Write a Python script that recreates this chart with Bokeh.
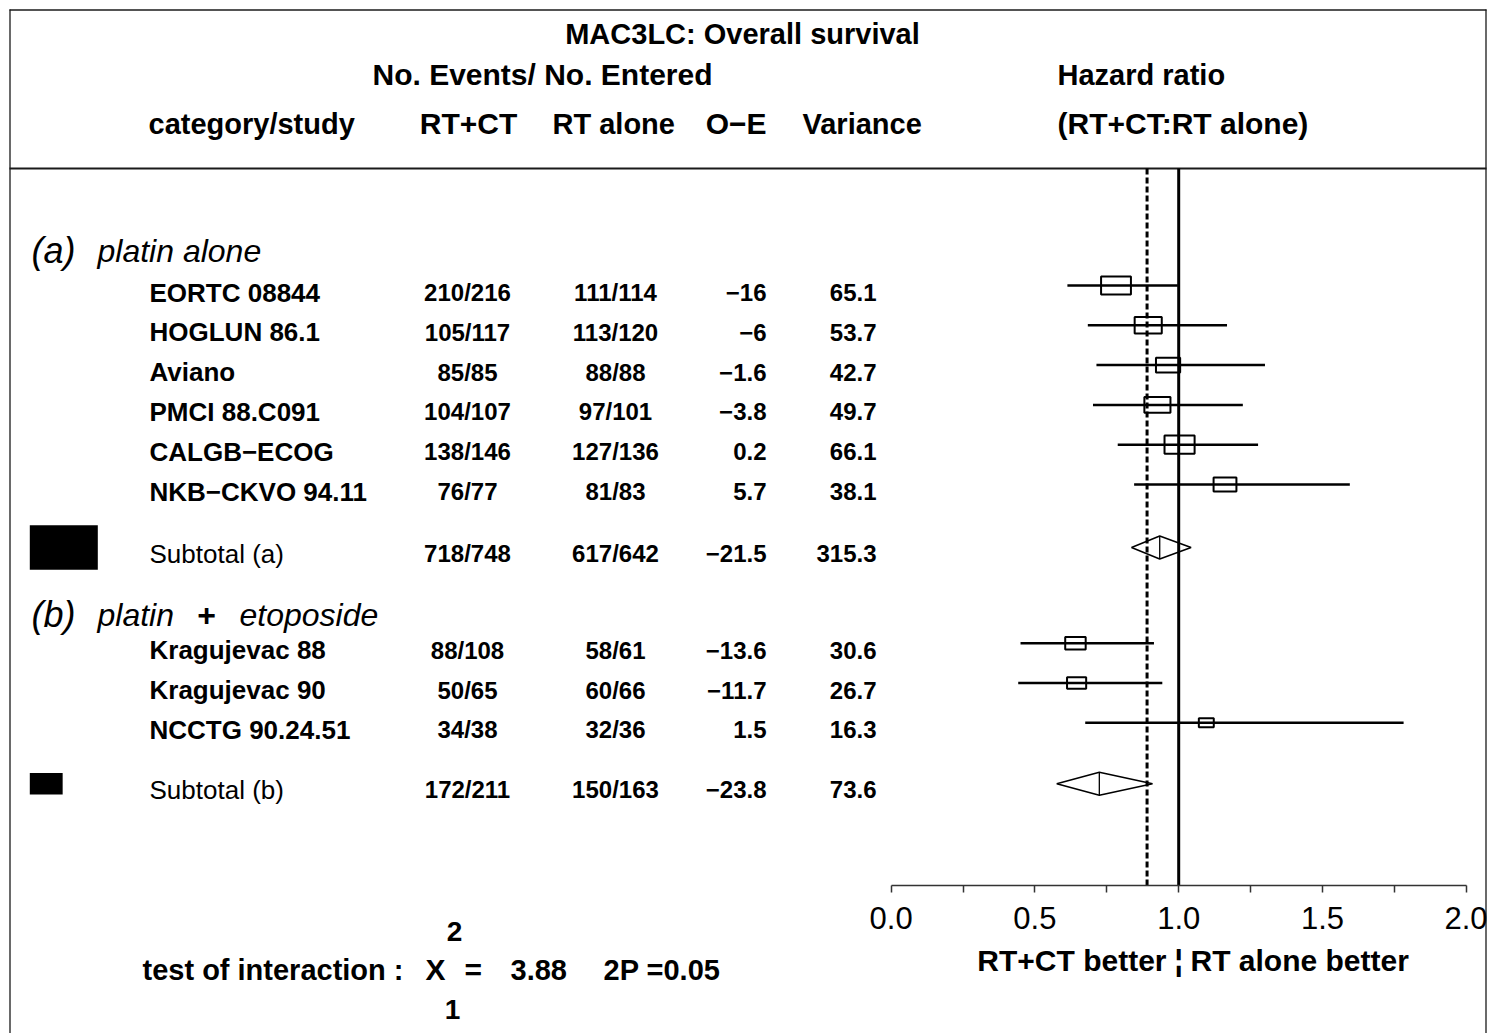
import math
from bokeh.plotting import figure
from bokeh.models import Range1d, LinearAxis, FixedTicker, ColumnDataSource, NumeralTickFormatter
from bokeh.core.properties import value
from bokeh.embed import file_html
from bokeh.resources import INLINE

# ---------------- data ----------------
title = "MAC3LC: Overall survival"
header_events = "No. Events/ No. Entered"
col_headers = ["category/study", "RT+CT", "RT alone", "O\u2212E", "Variance"]
hr_headers = ["Hazard ratio", "(RT+CT:RT alone)"]

group_tags = ["(a)", "(b)"]
group_names = [["platin alone"], ["platin", "+", "etoposide"]]

study = ["EORTC 08844", "HOGLUN 86.1", "Aviano", "PMCI 88.C091", "CALGB\u2212ECOG",
         "NKB\u2212CKVO 94.11", "Kragujevac 88", "Kragujevac 90", "NCCTG 90.24.51"]
study_group = [0, 0, 0, 0, 0, 0, 1, 1, 1]
ct_events = [210, 105, 85, 104, 138, 76, 88, 50, 34]
ct_entered = [216, 117, 85, 107, 146, 77, 108, 65, 38]
rt_events = [111, 113, 88, 97, 127, 81, 58, 60, 32]
rt_entered = [114, 120, 88, 101, 136, 83, 61, 66, 36]
o_minus_e = [-16, -6, -1.6, -3.8, 0.2, 5.7, -13.6, -11.7, 1.5]
variance = [65.1, 53.7, 42.7, 49.7, 66.1, 38.1, 30.6, 26.7, 16.3]
hr = [0.782, 0.894, 0.963, 0.926, 1.003, 1.161, 0.641, 0.645, 1.096]
hr_lo = [0.613, 0.684, 0.714, 0.702, 0.788, 0.845, 0.450, 0.442, 0.675]
hr_hi = [0.997, 1.168, 1.300, 1.223, 1.276, 1.595, 0.914, 0.943, 1.782]

subtotal_label = ["Subtotal (a)", "Subtotal (b)"]
sub_ct_events = [718, 172]
sub_ct_entered = [748, 211]
sub_rt_events = [617, 150]
sub_rt_entered = [642, 163]
sub_o_minus_e = [-21.5, -23.8]
sub_variance = [315.3, 73.6]
sub_hr = [0.934, 0.724]
sub_lo = [0.836, 0.576]
sub_hi = [1.043, 0.909]

overall_hr = 0.89
tick_values = [0.0, 0.5, 1.0, 1.5, 2.0]
minor_tick_values = [0.25, 0.75, 1.25, 1.75]
interaction_text = "test of interaction :"
interaction_chi2 = "3.88"
interaction_df = "1"
interaction_p = "2P =0.05"
better_left = "RT+CT better"
better_right = "RT alone better"

# ---------------- layout ----------------
FONT = "Liberation Sans"
W, H = 1487, 1033
X0, PPU = 890.6, 287.6          # page x of HR=0, pixels per HR unit


def hx(px):
    return (px - X0) / PPU


p = figure(width=W, height=H, output_backend="svg", toolbar_location=None,
           x_range=Range1d(hx(0), hx(W)), y_range=Range1d(H, 0),
           x_axis_type=None, y_axis_type=None, min_border=0,
           outline_line_color=None, background_fill_color="white",
           border_fill_color="white")


def label(x, y, s, size, align="left", style="bold", color="black"):
    p.text(x=[x], y=[y], text=[s], text_font=value(FONT), text_font_size=f"{size}px",
           text_font_style=style, text_align=align, text_baseline="middle",
           text_color=color)


def fmt(v):
    return f"{v:g}".replace("-", "\u2212")


# frame lines
LINE = "#1a1a1a"
p.segment(x0=[hx(9), hx(9.5), hx(1485.5), hx(9)], y0=[9.5, 9, 9, 168],
          x1=[hx(1486), hx(9.5), hx(1485.5), hx(1486)], y1=[9.5, 1033, 1033, 168],
          line_color=LINE, line_width=[1.3, 1.3, 1.3, 2.2])

# headers
label(hx(742), 33, title, 29, "center")
label(hx(542), 74, header_events, 30, "center")
label(hx(148), 123, col_headers[0], 29)
label(hx(468), 123, col_headers[1], 30, "center")
label(hx(552), 123, col_headers[2], 29)
label(hx(766), 123, col_headers[3], 30, "right")
label(hx(802), 123, col_headers[4], 29)
label(hx(1057), 74, hr_headers[0], 29)
label(hx(1057), 123, hr_headers[1], 30)

# row positions
ROW = 39.8
TXT_DY = 7
group_head_y = [250, 614]
group_first_y = [285, 642.7]
sub_y = [547, 783.3]

ys = []
counters = [0, 0]
for g in study_group:
    ys.append(group_first_y[g] + counters[g] * ROW)
    counters[g] += 1

for g in range(2):
    label(hx(31), group_head_y[g], group_tags[g], 36, style="italic")
label(hx(97), group_head_y[0], group_names[0][0], 32, style="italic")
label(hx(97), group_head_y[1], group_names[1][0], 32, style="italic")
label(hx(206), group_head_y[1], group_names[1][1], 32, "center", style="bold")
label(hx(239), group_head_y[1], group_names[1][2], 32, style="italic")

rows = ColumnDataSource(dict(
    y=ys,
    ty=[y + TXT_DY for y in ys],
    name=study,
    ct=[f"{e}/{n}" for e, n in zip(ct_events, ct_entered)],
    rt=[f"{e}/{n}" for e, n in zip(rt_events, rt_entered)],
    oe=[fmt(v) for v in o_minus_e],
    var=[f"{v:.1f}" for v in variance],
    hr=hr, lo=hr_lo, hi=hr_hi,
    bw=[3.7 * math.sqrt(v) / PPU for v in variance],
    bh=[2.25 * math.sqrt(v) for v in variance],
))

subs = ColumnDataSource(dict(
    y=sub_y,
    ty=[y + 6 for y in sub_y],
    name=subtotal_label,
    ct=[f"{e}/{n}" for e, n in zip(sub_ct_events, sub_ct_entered)],
    rt=[f"{e}/{n}" for e, n in zip(sub_rt_events, sub_rt_entered)],
    oe=[fmt(v) for v in sub_o_minus_e],
    var=[f"{v:.1f}" for v in sub_variance],
    hr=sub_hr,
    dx=[[lo, h, hi, h] for lo, h, hi in zip(sub_lo, sub_hr, sub_hi)],
    dy=[[y, y - 11.5, y, y + 11.5] for y in sub_y],
    d0=[y - 11.5 for y in sub_y],
    d1=[y + 11.5 for y in sub_y],
    kx=[hx(29.3 + 3.83 * math.sqrt(v) / 2) for v in sub_variance],
    kw=[3.83 * math.sqrt(v) / PPU for v in sub_variance],
    kh=[2.5 * math.sqrt(v) for v in sub_variance],
))

common = dict(text_font=value(FONT), text_baseline="middle", text_color="black")
for src, name_style, num_style in ((rows, "bold", "bold"), (subs, "normal", "bold")):
    p.text(x=hx(149), y="ty", text="name", source=src, text_font_size="26px",
           text_font_style=name_style, text_align="left", **common)
    p.text(x=hx(467), y="ty", text="ct", source=src, text_font_size="24px",
           text_font_style=num_style, text_align="center", **common)
    p.text(x=hx(615), y="ty", text="rt", source=src, text_font_size="24px",
           text_font_style=num_style, text_align="center", **common)
    p.text(x=hx(766), y="ty", text="oe", source=src, text_font_size="24px",
           text_font_style=num_style, text_align="right", **common)
    p.text(x=hx(876), y="ty", text="var", source=src, text_font_size="24px",
           text_font_style=num_style, text_align="right", **common)

# forest marks
p.segment(x0="lo", y0="y", x1="hi", y1="y", source=rows, line_color="black", line_width=2.5)
p.rect(x="hr", y="y", width="bw", height="bh", source=rows, fill_color=None,
       line_color="black", line_width=2)
p.patches(xs="dx", ys="dy", source=subs, fill_color="white", line_color="black", line_width=1.5)
p.segment(x0="hr", y0="d0", x1="hr", y1="d1", source=subs, line_color="black", line_width=1.3)
p.rect(x="kx", y="y", width="kw", height="kh", source=subs, fill_color="black", line_color=None)

# reference lines
p.segment(x0=[1.0], y0=[168], x1=[1.0], y1=[885], line_color="black", line_width=3)
p.segment(x0=[overall_hr], y0=[168], x1=[overall_hr], y1=[885], line_color="black",
          line_width=3, line_dash="6 3")

# axis
ax = LinearAxis(fixed_location=885, bounds=(0, 2),
                ticker=FixedTicker(ticks=tick_values, minor_ticks=minor_tick_values),
                formatter=NumeralTickFormatter(format="0.0"))
ax.axis_line_color = "#333333"
ax.axis_line_width = 1.5
ax.major_tick_line_color = "#333333"
ax.minor_tick_line_color = "#333333"
ax.major_tick_line_width = 1.5
ax.minor_tick_line_width = 1.5
ax.major_tick_in = 0
ax.major_tick_out = 7
ax.minor_tick_in = 0
ax.minor_tick_out = 7
ax.major_label_standoff = 14
ax.major_label_text_font = FONT
ax.major_label_text_font_size = "31px"
ax.major_label_text_color = "black"
p.add_layout(ax, "below")

label(hx(1166), 960, better_left, 30, "right")
label(1.0, 960, "\u00a6", 30, "center")
label(hx(1190), 960, better_right, 30, "left")

# interaction test
label(hx(142), 969, interaction_text, 29)
label(hx(425), 969, "X", 30)
label(hx(464), 969, "=", 30)
label(hx(510), 969, interaction_chi2, 29)
label(hx(603), 969, interaction_p, 29)
label(hx(454), 931, "2", 28, "center")
label(hx(452), 1009, interaction_df, 28, "center")

open("out.html", "w").write(file_html(p, INLINE))
